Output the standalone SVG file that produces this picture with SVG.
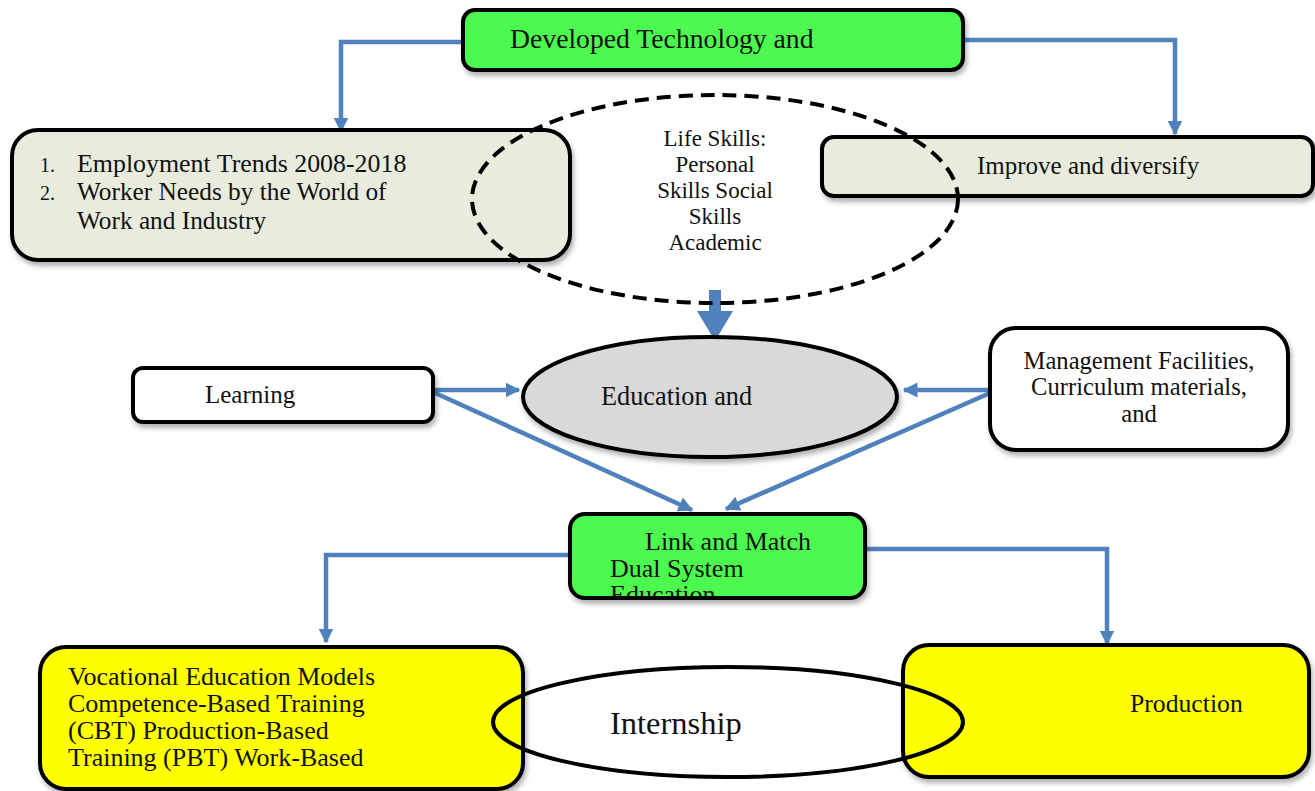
<svg xmlns="http://www.w3.org/2000/svg" width="1315" height="791" viewBox="0 0 1315 791">
<defs>
<style>
.t{font-family:"Liberation Serif","Times New Roman",serif;fill:#111;}
.box{stroke:#000;stroke-width:4;}
.con{fill:none;stroke:#4f81bd;stroke-width:4.5;}
</style>
<marker id="ah" viewBox="0 0 10 10" refX="9" refY="5" markerWidth="15" markerHeight="15" markerUnits="userSpaceOnUse" orient="auto">
<path d="M0,0 L10,5 L0,10 z" fill="#4f81bd"/>
</marker>
<filter id="sh" x="-5%" y="-10%" width="115%" height="130%">
<feDropShadow dx="2" dy="4" stdDeviation="2.5" flood-color="#000" flood-opacity="0.3"/>
</filter>
<clipPath id="linkclip"><rect x="572" y="516" width="291" height="80" rx="14"/></clipPath>
</defs>

<g id="connectors">
<path class="con" d="M463,42 H341 V131" marker-end="url(#ah)"/>
<path class="con" d="M963,40 H1175 V134" marker-end="url(#ah)"/>
<path d="M709,290 H721 V311 H733 L715,341 L697,311 H709 Z" fill="#4f81bd"/>
<path class="con" d="M433,390 H519" marker-end="url(#ah)"/>
<path class="con" d="M433,392 L692,510" marker-end="url(#ah)"/>
<path class="con" d="M990,390 H904" marker-end="url(#ah)"/>
<path class="con" d="M990,393 L726,509" marker-end="url(#ah)"/>
<path class="con" d="M570,555 H326 V642" marker-end="url(#ah)"/>
<path class="con" d="M865,549 H1107 V644" marker-end="url(#ah)"/>
</g>

<g id="developed-technology">
<rect class="box" x="463" y="10" width="500" height="60" rx="12" fill="#4cf94f" filter="url(#sh)"/>
<text class="t" x="510" y="48" font-size="27.7">Developed Technology and</text>
</g>

<g id="employment-trends">
<rect class="box" x="12" y="130" width="558" height="130" rx="26" fill="#e9ecdc" filter="url(#sh)"/>
<text class="t" x="40" y="172" font-size="20">1.</text>
<text class="t" x="77" y="172" font-size="25.9">Employment Trends 2008-2018</text>
<text class="t" x="40" y="200" font-size="20">2.</text>
<text class="t" x="77" y="200" font-size="25.3">Worker Needs by the World of</text>
<text class="t" x="77" y="229" font-size="25.3">Work and Industry</text>
</g>

<g id="improve-diversify">
<rect class="box" x="822" y="137" width="491" height="59" rx="12" fill="#e9ecdc" filter="url(#sh)"/>
<text class="t" x="977" y="174" font-size="25">Improve and diversify</text>
</g>

<g id="life-skills">
<ellipse cx="715" cy="199" rx="243" ry="104" fill="none" stroke="#000" stroke-width="4" stroke-dasharray="14,8"/>
<text class="t" x="715" y="146" font-size="23" text-anchor="middle">Life Skills:</text>
<text class="t" x="715" y="172" font-size="23" text-anchor="middle">Personal</text>
<text class="t" x="715" y="198" font-size="23" text-anchor="middle">Skills Social</text>
<text class="t" x="715" y="224" font-size="23" text-anchor="middle">Skills</text>
<text class="t" x="715" y="250" font-size="23" text-anchor="middle">Academic</text>
</g>

<g id="learning">
<rect class="box" x="133" y="368" width="300" height="54" rx="10" fill="#fff" filter="url(#sh)"/>
<text class="t" x="205" y="403" font-size="25">Learning</text>
</g>

<g id="education">
<ellipse class="box" cx="710" cy="397" rx="187" ry="60" fill="#d9d9d9" filter="url(#sh)"/>
<text class="t" x="601" y="405" font-size="26.3">Education and</text>
</g>

<g id="management">
<rect class="box" x="990" y="328" width="298" height="122" rx="26" fill="#fff" filter="url(#sh)"/>
<text class="t" x="1139" y="369" font-size="24.6" text-anchor="middle">Management Facilities,</text>
<text class="t" x="1139" y="395" font-size="24.6" text-anchor="middle">Curriculum materials,</text>
<text class="t" x="1139" y="422" font-size="24.6" text-anchor="middle">and</text>
</g>

<g id="link-match">
<rect class="box" x="570" y="514" width="295" height="84" rx="15" fill="#4cf94f" filter="url(#sh)"/>
<g clip-path="url(#linkclip)">
<text class="t" x="645" y="550" font-size="26">Link and Match</text>
<text class="t" x="610" y="577" font-size="26">Dual System</text>
<text class="t" x="610" y="603" font-size="26">Education</text>
</g>
</g>

<g id="vocational-models">
<rect class="box" x="40" y="647" width="483" height="142" rx="26" fill="#ffff00" filter="url(#sh)"/>
<text class="t" x="68" y="685" font-size="26">Vocational Education Models</text>
<text class="t" x="68" y="712" font-size="26">Competence-Based Training</text>
<text class="t" x="68" y="739" font-size="26">(CBT) Production-Based</text>
<text class="t" x="68" y="766" font-size="26">Training (PBT) Work-Based</text>
</g>

<g id="production">
<rect class="box" x="903" y="645" width="406" height="132" rx="26" fill="#ffff00" filter="url(#sh)"/>
<text class="t" x="1130" y="712" font-size="25.7">Production</text>
</g>

<g id="internship">
<ellipse cx="728" cy="722" rx="235" ry="55" fill="none" stroke="#000" stroke-width="4"/>
<text class="t" x="610" y="734" font-size="32.5">Internship</text>
</g>
</svg>
